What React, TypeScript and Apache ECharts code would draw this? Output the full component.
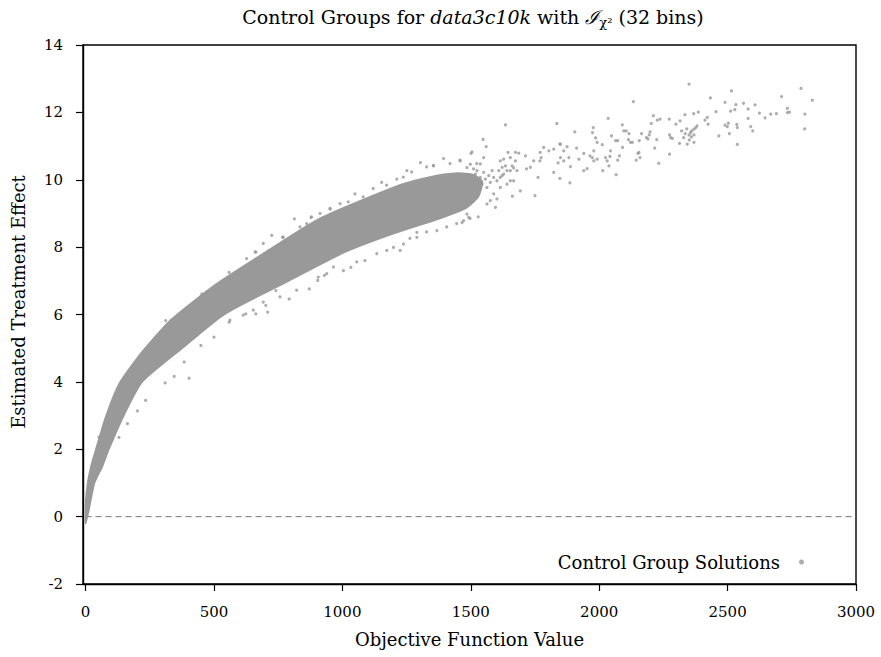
import React, { useEffect, useRef } from "react";
import * as echarts from "echarts";

// ---- axis ticks ----
const xTicks = [0, 500, 1000, 1500, 2000, 2500, 3000];
const X_MIN = -10;
const X_MAX = 3000;
const Y_MIN = -2;
const Y_MAX = 14;
const Y_STEP = 2;

// ---- dense core of the cloud (envelope) ----
const upperEdgeX = [0, 8, 21, 40, 80, 131, 221, 333, 508, 700, 912, 1226, 1350, 1450, 1510, 1545];
const upperEdgeY = [0.4, 1.0, 1.5, 2.0, 3.0, 3.95, 4.9, 5.85, 6.9, 7.85, 8.85, 9.85, 10.1, 10.2, 10.15, 9.95];
const lowerEdgeX = [0, 13, 35, 66, 91, 149, 221, 377, 540, 792, 1010, 1200, 1380, 1480, 1530];
const lowerEdgeY = [-0.2, 0.2, 1.0, 1.5, 2.0, 3.0, 4.0, 5.0, 6.0, 7.0, 7.85, 8.4, 8.85, 9.15, 9.5];

// ---- individual solutions around the dense core ----
const pointsAbove: [number, number][] = [
  [813, 8.84], [878, 8.88], [767, 8.29], [663, 7.85], [559, 7.25], [494, 6.76], [453, 6.61],
  [351, 5.92], [312, 5.82], [260, 5.13], [228, 4.73], [202, 4.49], [130, 3.45], [85, 2.81],
  [52, 2.36], [1049, 9.58], [1304, 10.51], [1394, 10.63], [1505, 10.83], [1153, 9.92],
  [1212, 10.02], [952, 9.13], [627, 7.66], [660, 7.86], [692, 8.11], [725, 8.35], [770, 8.3],
  [835, 8.6], [861, 8.7], [880, 8.9], [913, 9.0], [952, 9.15], [991, 9.29], [1023, 9.34],
  [1081, 9.49], [1120, 9.74], [1172, 9.84], [1237, 10.08], [1270, 10.23], [1328, 10.38],
  [1354, 10.43], [1419, 10.48], [1458, 10.58], [1523, 10.48],
];
const pointsBelow: [number, number][] = [
  [403, 4.11], [345, 4.16], [310, 3.97], [234, 3.45], [202, 3.14], [130, 2.35], [163, 2.76],
  [500, 5.33], [449, 5.08], [559, 5.77], [663, 6.02], [709, 6.07], [702, 6.27], [793, 6.46],
  [871, 6.76], [904, 7.01], [930, 7.16], [624, 6.02], [741, 6.71], [384, 4.59], [1004, 7.3],
  [1088, 7.6], [1199, 7.99], [1238, 8.09], [1368, 8.49], [1472, 8.79], [906, 7.11], [939, 7.21],
  [1033, 7.4], [1173, 7.9], [1290, 8.29], [1290, 8.44], [1225, 7.9], [562, 5.83], [614, 5.98],
  [653, 6.13], [692, 6.37], [757, 6.52], [822, 6.72], [965, 7.41], [1056, 7.56], [1134, 7.81],
  [1263, 8.26], [1328, 8.45], [1406, 8.6], [1445, 8.7], [1497, 8.85], [1529, 8.9],
];
const pointsTransition: [number, number][] = [
  [1548, 11.2], [1560, 10.98], [1501, 10.78], [1635, 11.63], [1835, 11.67], [1847, 10.04],
  [1840, 10.5], [1823, 10.22], [1823, 10.91], [1804, 10.86], [1784, 10.96], [1774, 10.66],
  [1770, 10.81], [1769, 10.56], [1762, 10.07], [1750, 9.53], [1745, 10.56], [1732, 10.37],
  [1717, 10.32], [1713, 10.71], [1693, 9.67], [1687, 10.79], [1674, 10.81], [1667, 10.35],
  [1654, 10.66], [1645, 10.81], [1628, 10.61], [1615, 10.56], [1596, 9.18], [1602, 9.43],
  [1589, 9.58], [1576, 9.38], [1563, 9.28], [1662, 9.51], [1641, 9.87], [1654, 9.97],
  [1628, 10.17], [1615, 10.07], [1641, 10.27], [1622, 10.37], [1550, 10.66], [1537, 10.47],
  [1524, 10.27], [1511, 10.07], [1505, 9.77], [1492, 8.88], [1466, 8.73], [1485, 8.98],
  [1459, 10.56], [1355, 10.41], [1251, 10.27], [1485, 10.36], [1498, 10.46], [1511, 10.32],
  [1518, 10.17], [1524, 9.97], [1537, 10.07], [1544, 9.87], [1550, 10.22], [1557, 10.02],
  [1563, 9.77], [1570, 10.12], [1576, 9.92], [1583, 10.27], [1589, 10.07], [1602, 9.97],
  [1609, 10.27], [1615, 9.77], [1622, 10.12], [1635, 10.41], [1654, 10.27], [1661, 10.41],
  [1667, 9.97], [1674, 10.56], [1680, 10.27], [1847, 11.06],
];
const pointsTail: [number, number][] = [
  [1849, 11.06], [1862, 10.86], [1875, 10.98], [1849, 10.66], [1862, 10.56], [1882, 10.66],
  [1888, 10.39], [1886, 9.91], [1905, 11.42], [1912, 10.94], [1921, 10.61], [1940, 10.78],
  [1940, 10.27], [1953, 10.33], [1964, 10.71], [1973, 10.66], [1979, 10.86], [1979, 10.56],
  [1992, 10.61], [1974, 11.4], [1977, 11.55], [1986, 11.24], [1992, 11.11], [2014, 10.27],
  [2012, 11.04], [2025, 10.66], [2031, 10.56], [2038, 10.41], [2042, 10.69], [2044, 10.86],
  [2066, 10.15], [2035, 11.82], [2048, 11.3], [2064, 11.16], [2072, 11.16], [2072, 10.58],
  [2079, 10.71], [2090, 11.63], [2096, 11.45], [2105, 11.45], [2116, 11.37], [2122, 11.11],
  [2129, 11.11], [2114, 11.19], [2091, 10.96], [2133, 12.32], [2144, 10.58], [2151, 10.78],
  [2155, 10.81], [2156, 11.16], [2159, 10.66], [2165, 11.37], [2184, 11.25], [2190, 11.21],
  [2195, 11.33], [2198, 11.42], [2203, 11.67], [2211, 11.9], [2216, 10.94], [2224, 11.19],
  [2226, 11.77], [2232, 10.49], [2237, 11.8], [2273, 11.8], [2274, 11.33], [2278, 11.25],
  [2285, 11.23], [2274, 10.76], [2299, 11.65], [2315, 11.75], [2313, 11.08], [2321, 11.45],
  [2329, 11.25], [2334, 11.93], [2335, 11.37], [2341, 11.51], [2343, 11.06], [2350, 11.33],
  [2350, 12.84], [2351, 11.18], [2356, 11.4], [2359, 11.27], [2360, 11.45], [2368, 11.96],
  [2369, 11.5], [2369, 11.33], [2369, 11.11], [2376, 11.55], [2381, 11.6], [2386, 12.01],
  [2412, 11.77], [2421, 11.85], [2424, 11.65], [2433, 12.43], [2455, 12.02], [2466, 11.3],
  [2490, 12.3], [2490, 11.62], [2499, 11.58], [2503, 11.68], [2507, 11.37], [2512, 12.04],
  [2515, 12.64], [2528, 12.08], [2532, 12.23], [2536, 11.64], [2538, 11.55], [2538, 11.05],
  [2562, 12.27], [2580, 12.1], [2580, 11.82], [2590, 11.58], [2598, 11.45], [2607, 12.22],
  [2624, 11.98], [2646, 11.84], [2668, 11.95], [2690, 11.96], [2710, 12.47], [2733, 12.12],
  [2741, 12.01], [2733, 11.99], [2786, 12.71], [2800, 11.51], [2801, 11.95], [2830, 12.36],
];
const zeroLine: [number, number][] = [[0, 0], [3000, 0]];

const SERIES_NAME = "Control Group Solutions";
const FONT = "'DejaVu Serif', serif";
const DOT = "#999999";

export default function App() {
  const ref = useRef<HTMLDivElement>(null);
  useEffect(() => {
    const chart = echarts.init(ref.current!, null, { renderer: "svg" });
    const allPoints = [...pointsAbove, ...pointsBelow, ...pointsTransition, ...pointsTail];
    const base = { fontFamily: FONT, fontSize: 19, fontWeight: "normal", color: "#000", lineHeight: 24, verticalAlign: "middle" };
    chart.setOption({
      animation: false,
      backgroundColor: "#fff",
      textStyle: { fontFamily: FONT },
      title: {
        left: 468,
        top: 0,
        textAlign: "center",
        text: "{a|Control Groups for }{i|data3c10k}{a| with }{c|ℐ}{s|χ²}{a| (32 bins)}",
        textStyle: {
          fontFamily: FONT,
          fontWeight: "normal",
          rich: {
            a: base,
            i: { ...base, fontStyle: "italic" },
            c: { ...base, fontStyle: "italic" },
            s: { fontFamily: FONT, fontSize: 13, fontWeight: "normal", color: "#000", lineHeight: 14, verticalAlign: "bottom" },
          },
        },
      },
      grid: { left: 83, right: 25, top: 45, bottom: 73, show: true, borderColor: "#000", borderWidth: 1.4, backgroundColor: "transparent" },
      legend: {
        data: [{ name: SERIES_NAME, icon: "circle" }],
        right: 72,
        top: 548,
        align: "right",
        itemWidth: 5,
        itemHeight: 5,
        textStyle: { fontFamily: FONT, fontSize: 18, color: "#000", padding: [0, 14, 0, 0] },
      },
      xAxis: {
        type: "value",
        min: X_MIN,
        max: X_MAX,
        name: "Objective Function Value",
        nameLocation: "middle",
        nameGap: 46,
        nameTextStyle: { fontFamily: FONT, fontSize: 18, color: "#000" },
        axisLine: { show: true, onZero: false, lineStyle: { color: "#000", width: 1.4 } },
        axisTick: { show: true, inside: false, length: 7, customValues: xTicks, lineStyle: { color: "#000", width: 1.2 } },
        axisLabel: { customValues: xTicks, margin: 20, fontFamily: FONT, fontSize: 15, color: "#000", formatter: (v: number) => String(v) },
        splitLine: { show: false },
      },
      yAxis: {
        type: "value",
        min: Y_MIN,
        max: Y_MAX,
        interval: Y_STEP,
        axisLine: { show: true, onZero: false, lineStyle: { color: "#000", width: 1.4 } },
        axisTick: { show: true, inside: false, length: 7, lineStyle: { color: "#000", width: 1.2 } },
        axisLabel: { margin: 20, fontFamily: FONT, fontSize: 15, color: "#000", formatter: (v: number) => String(v) },
        splitLine: { show: false },
      },
      graphic: [
        {
          type: "text",
          x: 18,
          y: 302,
          rotation: Math.PI / 2,
          style: { text: "Estimated Treatment Effect", font: `18px 'DejaVu Serif'`, fill: "#000", textAlign: "center", textVerticalAlign: "middle" },
        },
      ],
      series: [
        {
          type: "line",
          name: "zero",
          data: zeroLine,
          symbol: "none",
          silent: true,
          lineStyle: { color: "#777", width: 1, type: [6, 4] },
          z: 1,
        },
        {
          type: "custom",
          name: "core",
          silent: true,
          data: [[0, 0]],
          clip: true,
          z: 2,
          renderItem: (_params: any, api: any) => {
            const up = upperEdgeX.map((x, i) => api.coord([x, upperEdgeY[i]]));
            const lo = lowerEdgeX.map((x, i) => api.coord([x, lowerEdgeY[i]])).reverse();
            return {
              type: "polygon",
              shape: { points: [...up, ...lo], smooth: 0.2 },
              style: { fill: DOT, stroke: DOT, lineWidth: 1.5 },
            };
          },
        },
        {
          type: "scatter",
          name: SERIES_NAME,
          data: allPoints,
          symbol: "circle",
          symbolSize: 3.2,
          itemStyle: { color: DOT },
          z: 3,
        },
      ],
    });
    return () => chart.dispose();
  }, []);
  return <div ref={ref} style={{ position: "fixed", left: 0, top: 0, width: 881, height: 657 }} />;
}
